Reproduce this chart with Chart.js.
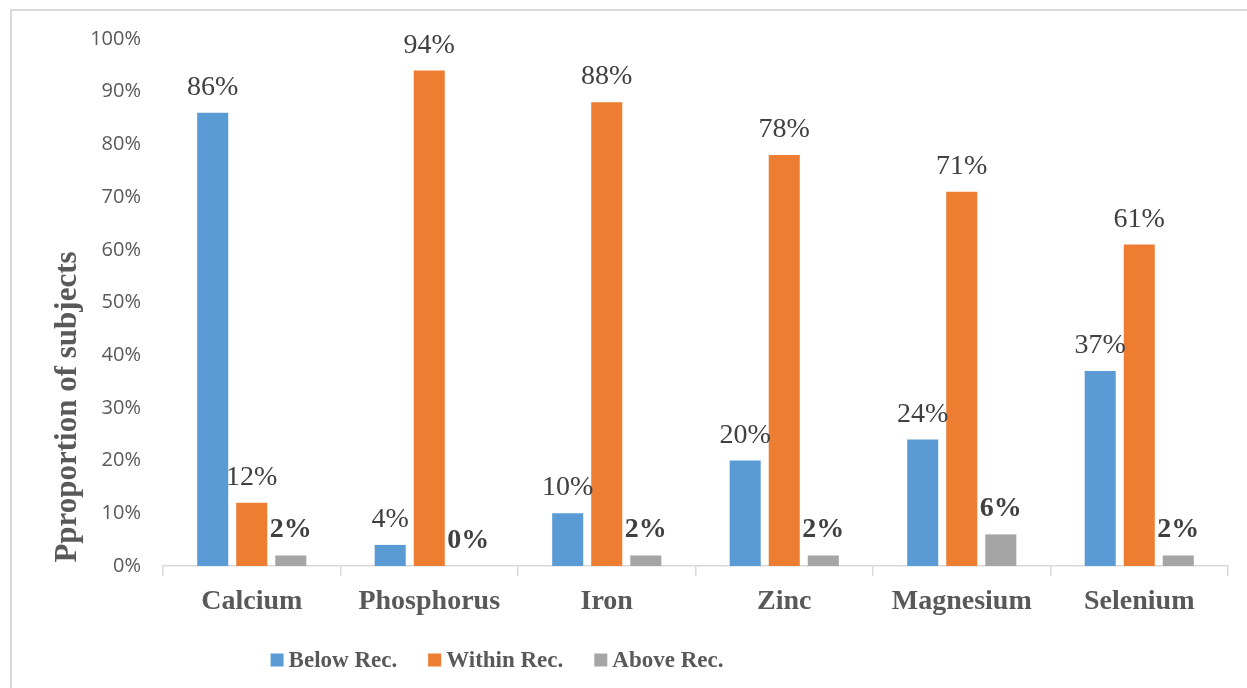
<!DOCTYPE html>
<html>
<head>
<meta charset="utf-8">
<script src="https://cdn.jsdelivr.net/npm/chart.js@4/dist/chart.umd.min.js"></script>
<style>
  html, body { margin: 0; padding: 0; background: #fff; overflow: hidden; }
  #wrap { position: relative; width: 1247px; height: 688px; }
  #frame { position: absolute; left: 10px; top: 9px; width: 1400px; height: 900px; border: 2px solid #d9d9d9; box-sizing: border-box; }
  #mineralChart { position: absolute; left: 0; top: 0; }
</style>
</head>
<body>
<div id="wrap">
  <div id="frame"></div>
  <canvas id="mineralChart" width="1247" height="688"></canvas>
</div>
<script>
const minerals = ['Calcium', 'Phosphorus', 'Iron', 'Zinc', 'Magnesium', 'Selenium'];
const belowRec = [86, 4, 10, 20, 24, 37];
const withinRec = [12, 94, 88, 78, 71, 61];
const aboveRec = [2, 0, 2, 2, 6, 2];
const yTicks = [0, 10, 20, 30, 40, 50, 60, 70, 80, 90, 100];

const serif = "'Liberation Serif', 'Times New Roman', serif";
const textGray = '#595959';

// value labels above each bar, the last series in bold
const barLabels = {
    id: 'barLabels',
    afterDatasetsDraw(chart) {
        const ctx = chart.ctx;
        ctx.save();
        ctx.fillStyle = '#404040';
        ctx.textAlign = 'center';
        ctx.textBaseline = 'alphabetic';
        chart.data.datasets.forEach((ds, i) => {
            ctx.font = (i === 2 ? 'bold ' : '') + '28px ' + serif;
            chart.getDatasetMeta(i).data.forEach((bar, j) => {
                ctx.fillText(ds.data[j] + '%', bar.x, bar.y - 18);
            });
        });
        ctx.restore();
    }
};

// y title and legend sit off-centre, so they are drawn here
const extras = {
    id: 'extras',
    afterDraw(chart) {
        const ctx = chart.ctx;
        ctx.save();
        ctx.fillStyle = textGray;
        ctx.font = 'bold 31px ' + serif;
        ctx.translate(68, 407);
        ctx.rotate(-Math.PI / 2);
        ctx.textAlign = 'center';
        ctx.textBaseline = 'middle';
        ctx.fillText('Pproportion of subjects', 0, 0);
        ctx.restore();

        ctx.save();
        ctx.font = 'bold 23px ' + serif;
        ctx.textBaseline = 'middle';
        const box = 13, gapIn = 5, gapOut = 31;
        const items = chart.data.datasets.map(ds => ({
            label: ds.label, color: ds.backgroundColor,
            w: box + gapIn + ctx.measureText(ds.label).width
        }));
        const total = items.reduce((s, it) => s + it.w, 0) + gapOut * (items.length - 1);
        let x = 497 - total / 2;
        const y = 661;
        items.forEach(it => {
            ctx.fillStyle = it.color;
            ctx.fillRect(x, y - box / 2 - 1, box, box);
            ctx.fillStyle = textGray;
            ctx.fillText(it.label, x + box + gapIn, y);
            x += it.w + gapOut;
        });
        ctx.restore();
    }
};

const ctx = document.getElementById('mineralChart').getContext('2d');
new Chart(ctx, {
    type: 'bar',
    data: {
        labels: minerals,
        datasets: [
            { label: 'Below Rec.', data: belowRec, backgroundColor: '#5B9BD5' },
            { label: 'Within Rec.', data: withinRec, backgroundColor: '#ED7D31' },
            { label: 'Above Rec.', data: aboveRec, backgroundColor: '#A5A5A5' }
        ]
    },
    options: {
        responsive: false,
        animation: false,
        categoryPercentage: 0.66,
        barPercentage: 0.795,
        layout: { padding: { top: 39, right: 19, bottom: 62, left: 0 } },
        plugins: {
            legend: { display: false },
            tooltip: { enabled: false }
        },
        scales: {
            x: {
                grid: {
                    offset: true,
                    drawOnChartArea: false,
                    drawTicks: true,
                    tickLength: 10,
                    color: '#d9d9d9',
                    lineWidth: 1.5
                },
                border: { display: true, color: '#d9d9d9', width: 1.5 },
                ticks: {
                    color: textGray,
                    padding: 9,
                    font: { family: serif, size: 28, weight: 'bold' }
                },
                afterFit(scale) { scale.height = 60; }
            },
            y: {
                min: 0,
                max: 100,
                afterBuildTicks(scale) { scale.ticks = yTicks.map(v => ({ value: v })); },
                grid: { display: false, drawTicks: false },
                border: { display: false },
                ticks: {
                    color: textGray,
                    padding: 22,
                    font: { family: "'Open Sans', sans-serif", size: 20 },
                    callback: v => v + '%'
                },
                afterFit(scale) { scale.width = 163; }
            }
        }
    },
    plugins: [barLabels, extras]
});
</script>
</body>
</html>
